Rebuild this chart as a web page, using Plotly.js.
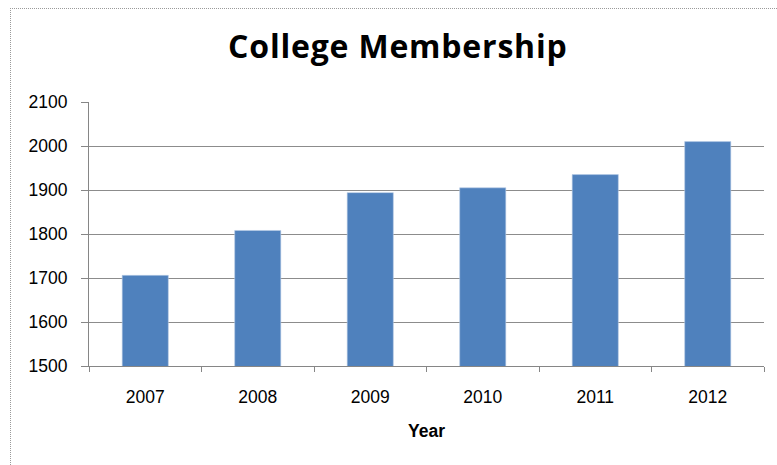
<!DOCTYPE html>
<html>
<head>
<meta charset="utf-8">
<script src="https://cdn.plot.ly/plotly-3.0.1.min.js"></script>
<style>
  html, body { margin: 0; padding: 0; background: #fff; }
  #wrap { position: relative; width: 777px; height: 465px; overflow: hidden; }
  #frame { position: absolute; left: 10px; top: 8px; width: 900px; height: 600px;
           border-left: 1px dotted #9a9a9a; border-top: 1px dotted #9a9a9a; }
  #chart { position: absolute; left: 0; top: 0; width: 777px; height: 465px; }
  #chart .gtitle { letter-spacing: 0.8px; }
</style>
</head>
<body>
<div id="wrap">
  <div id="frame"></div>
  <div id="chart"></div>
</div>
<script>
const years = ['2007', '2008', '2009', '2010', '2011', '2012'];
const membership = [1706, 1808, 1894, 1905, 1935, 2010];
const yTicks = [1500, 1600, 1700, 1800, 1900, 2000, 2100];

const tickFont = { family: '"Liberation Sans", Arial, sans-serif', size: 17.5, color: '#000' };

const trace = {
  type: 'bar',
  x: years,
  y: membership,
  marker: { color: '#4F81BD', line: { color: '#b9cde5', width: 0.6 } },
  hoverinfo: 'x+y'
};

const layout = {
  width: 777, height: 465,
  paper_bgcolor: 'rgba(0,0,0,0)',
  plot_bgcolor: 'rgba(0,0,0,0)',
  margin: { l: 89, r: 13, t: 102, b: 99 },
  bargap: 0.59,
  showlegend: false,
  title: {
    text: '<b>College Membership</b>',
    font: { family: '"Open Sans", sans-serif', size: 32, color: '#000' },
    x: 0.512, xanchor: 'center', y: 0.9, yanchor: 'middle'
  },
  xaxis: {
    type: 'category',
    showgrid: false,
    showline: true, linecolor: '#868686', linewidth: 1,
    ticks: 'outside', tickson: 'boundaries', ticklen: 5, tickcolor: '#868686',
    tickfont: tickFont,
    ticklabelstandoff: 15,
    title: { text: '<b>Year</b>', font: { family: '"Liberation Sans", Arial, sans-serif', size: 17.5, color: '#000' }, standoff: 18 },
    fixedrange: true
  },
  yaxis: {
    range: [1500, 2100],
    tickvals: yTicks,
    ticktext: yTicks.map(String),
    showgrid: true, gridcolor: '#8c8c8c', gridwidth: 1,
    showline: true, linecolor: '#868686', linewidth: 1,
    ticks: 'outside', ticklen: 7, tickcolor: '#868686',
    tickfont: tickFont,
    ticklabelstandoff: 10,
    zeroline: false,
    fixedrange: true
  }
};

Plotly.newPlot('chart', [trace], layout, { displayModeBar: false, staticPlot: true });
</script>
</body>
</html>
